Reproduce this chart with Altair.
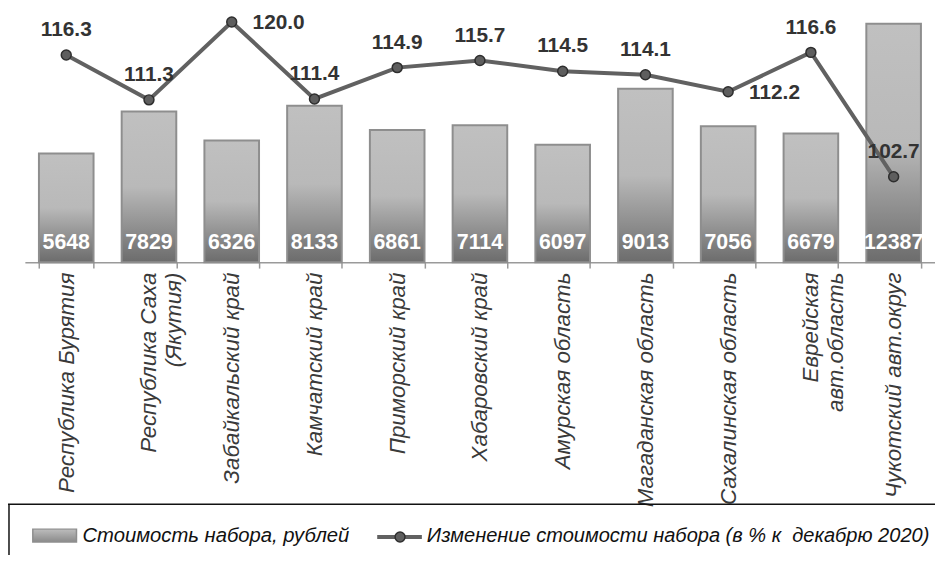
import altair as alt
import pandas as pd

categories = [
    "Республика Бурятия",
    "Республика Саха|(Якутия)",
    "Забайкальский край",
    "Камчатский край",
    "Приморский край",
    "Хабаровский край",
    "Амурская область",
    "Магаданская область",
    "Сахалинская область",
    "Еврейская|авт.область",
    "Чукотский авт.округ",
]
cost = [5648, 7829, 6326, 8133, 6861, 7114, 6097, 9013, 7056, 6679, 12387]
change = [116.3, 111.3, 120.0, 111.4, 114.9, 115.7, 114.5, 114.1, 112.2, 116.6, 102.7]
right_labels = ["Забайкальский край", "Сахалинская область"]

legend_bar = "Стоимость набора, рублей"
legend_line = "Изменение стоимости набора (в % к\u00a0 декабрю 2020)"

FONT = "Liberation Sans, Arial, sans-serif"

df = pd.DataFrame({"region": categories, "cost": cost, "change": change})
df["side"] = ["right" if c in right_labels else "above" for c in categories]

grad = alt.Gradient(
    gradient="linear",
    stops=[
        alt.GradientStop(color="#c0c0c0", offset=0),
        alt.GradientStop(color="#b9b9b9", offset=0.5),
        alt.GradientStop(color="#6c6c6c", offset=1),
    ],
    x1=0, x2=0, y1=0, y2=1,
)

x = alt.X(
    "region:N",
    sort=categories,
    title=None,
    scale=alt.Scale(paddingInner=0.34, paddingOuter=0.17),
    axis=alt.Axis(
        labelAngle=-90,
        labelExpr="split(datum.label, '|')",
        labelFont=FONT,
        labelFontSize=22.5,
        labelFontStyle="italic",
        labelColor="#3a3a3a",
        labelLineHeight=25,
        labelLimit=400,
        labelPadding=4,
        domainColor="#9a9a9a",
        domainWidth=1.5,
        tickColor="#9a9a9a",
        tickWidth=1.5,
        tickBand="extent",
        tickSize=6,
    ),
)

base = alt.Chart(df)

ybar = alt.Y("cost:Q", scale=alt.Scale(domain=[0, 13100]), axis=None)
bars = base.mark_bar(fill=grad, stroke="#8e8e8e", strokeWidth=2).encode(x=x, y=ybar)
bar_labels = base.mark_text(
    color="white", font=FONT, fontSize=21.5, fontWeight="bold", baseline="alphabetic", dy=-13
).encode(x=x, y=alt.Y("zero:Q", scale=alt.Scale(domain=[0, 13100]), axis=None), text="cost:Q").transform_calculate(zero="0")

bar_layer = alt.layer(bars, bar_labels)

yline = alt.Y("change:Q", scale=alt.Scale(domain=[93.17, 121.33], zero=False), axis=None)
line = base.mark_line(color="#616161", strokeWidth=4).encode(x=x, y=yline)
points = base.mark_point(
    filled=True, size=100, fill="#5e5e5e", stroke="#2e2e2e", strokeWidth=1.5, opacity=1, shape="circle"
).encode(x=x, y=yline)
lab_above = base.transform_filter(alt.datum.side == "above").mark_text(
    font=FONT, fontSize=21, fontWeight="bold", color="#333333", baseline="middle", dy=-25
).encode(x=x, y=yline, text=alt.Text("change:Q", format=".1f"))
lab_right = base.transform_filter(alt.datum.side == "right").mark_text(
    font=FONT, fontSize=21, fontWeight="bold", color="#333333", baseline="middle", align="left", dx=21, dy=1
).encode(x=x, y=yline, text=alt.Text("change:Q", format=".1f"))

line_layer = alt.layer(line, points, lab_above, lab_right)

one = pd.DataFrame({"a": [0]})
lg = alt.Chart(one)
box_top = lg.mark_rule(color="#111111", strokeWidth=1.5).encode(
    x=alt.value(-17), x2=alt.value(940), y=alt.value(498)
)
box_left = lg.mark_rule(color="#111111", strokeWidth=1.5).encode(
    x=alt.value(-16), y=alt.value(498), y2=alt.value(600)
)
sym_bar = lg.mark_rect(fill=alt.Gradient(
    gradient="linear",
    stops=[alt.GradientStop(color="#bdbdbd", offset=0), alt.GradientStop(color="#8a8a8a", offset=1)],
    x1=0, x2=0, y1=0, y2=1,
), stroke="#8e8e8e", strokeWidth=1.5).encode(
    x=alt.value(8), x2=alt.value(52), y=alt.value(523), y2=alt.value(536)
)
txt_bar = lg.mark_text(font=FONT, fontSize=20.4, fontStyle="italic", color="#111111", align="left", baseline="middle").encode(
    x=alt.value(58), y=alt.value(530), text=alt.value(legend_bar)
)
sym_line = lg.mark_rule(color="#616161", strokeWidth=4).encode(
    x=alt.value(355), x2=alt.value(400), y=alt.value(531)
)
sym_pt = lg.mark_point(filled=True, size=100, fill="#5e5e5e", stroke="#2e2e2e", strokeWidth=1.5, opacity=1, shape="circle").encode(
    x=alt.value(378), y=alt.value(531)
)
txt_line = lg.mark_text(font=FONT, fontSize=20.2, fontStyle="italic", color="#111111", align="left", baseline="middle").encode(
    x=alt.value(405), y=alt.value(530), text=alt.value(legend_line)
)
legend_layer = alt.layer(box_top, box_left, sym_bar, txt_bar, sym_line, sym_pt, txt_line)

chart = alt.layer(bar_layer, line_layer, legend_layer).resolve_scale(y="independent").properties(
    width=917,
    height=254,
    autosize=alt.AutoSizeParams(type="none"),
    padding={"left": 17, "top": 0, "right": 0, "bottom": 293},
).configure_view(stroke=None)

chart.save("out.html", embed_options={"renderer": "svg", "actions": False})
